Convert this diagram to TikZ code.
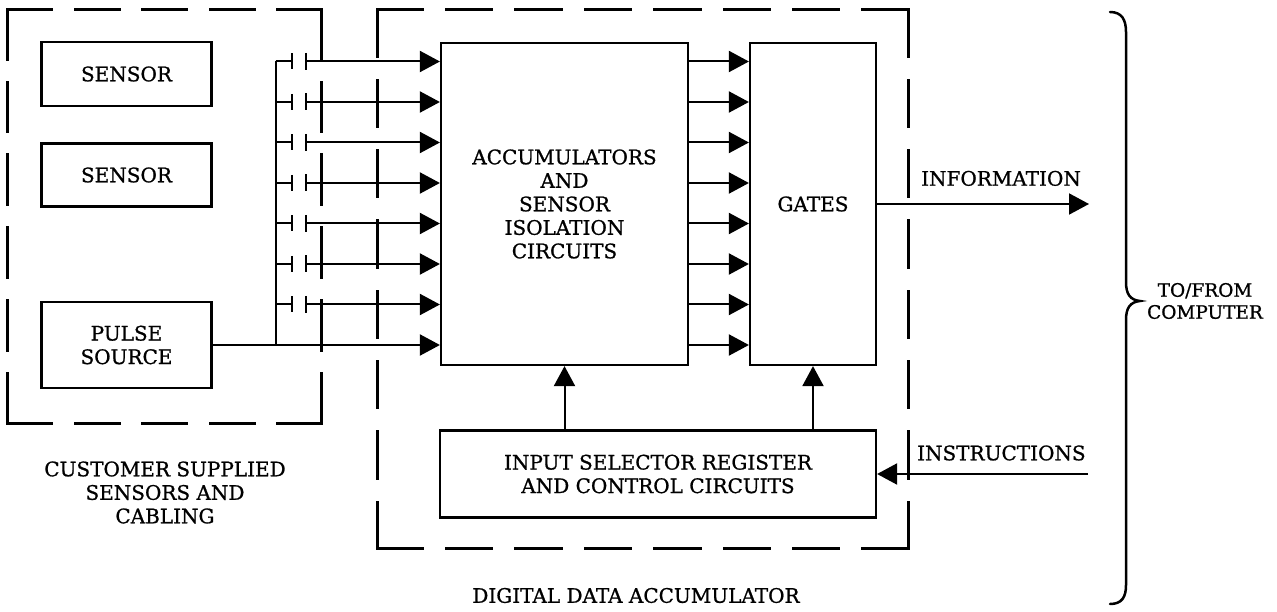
\documentclass[tikz,border=0pt]{standalone}
\usepackage{fontspec}
\setmainfont{DejaVu Serif}[BoldFont=DejaVu Serif, BoldFeatures={FakeBold=0.9}]
\usetikzlibrary{arrows.meta}
\begin{document}
\begin{tikzpicture}[x=1pt,y=-1pt,
  lbl/.style={font=\fontsize{20}{23.5}\selectfont\bfseries, align=center, inner sep=0pt},
  blk/.style={draw, line width=2.2pt, inner sep=0pt, lbl},
  sig/.style={line width=2pt},
  arr/.style={sig, -{Triangle[length=20pt,width=21pt]}},
  dsh/.style={line width=3pt, line cap=rect},
  brc/.style={line width=2.5pt, line cap=round}
]
\useasboundingbox (0,0) rectangle (1277,612);

% blocks
\node[blk, minimum width=170pt, minimum height=64pt] (sensA) at (126.5,74) {SENSOR};
\node[blk, minimum width=170pt, minimum height=63pt] (sensB) at (126.5,175) {SENSOR};
\node[blk, minimum width=170pt, minimum height=86pt] (pulse) at (126.5,345) {PULSE\\SOURCE};
\node[blk, minimum width=247pt, minimum height=322pt] (accum) at (564.5,204) {ACCUMULATORS\\AND\\SENSOR\\ISOLATION\\CIRCUITS};
\node[blk, minimum width=126pt, minimum height=322pt] (gates) at (813,204) {GATES};
\node[blk, minimum width=436pt, minimum height=87pt] (insel) at (658,474) {INPUT SELECTOR REGISTER\\AND CONTROL CIRCUITS};

% dashed enclosures
\coordinate (lTL) at (7.5,9.5);   \coordinate (lTR) at (321.7,9.5);
\coordinate (lBR) at (321.7,423); \coordinate (lBL) at (7.5,423);
\draw[dsh, dash pattern=on 44pt off 23.55pt] (lTL) -- (lTR);
\draw[dsh, dash pattern=on 44pt off 23.55pt] (lBL) -- (lBR);
\draw[dsh, dash pattern=on 49.75pt off 23pt] (lTL) -- (lBL);
\draw[dsh, dash pattern=on 49.75pt off 23pt] (lTR) -- (lBR);

\coordinate (rTL) at (377,10);    \coordinate (rTR) at (908,10);
\coordinate (rBR) at (908,548.5); \coordinate (rBL) at (377,548.5);
\draw[dsh, dash pattern=on 45.4pt off 24pt] (rTL) -- (rTR);
\draw[dsh, dash pattern=on 45.4pt off 24pt] (rBL) -- (rBR);
\draw[dsh, dash pattern=on 46.3pt off 24pt] (rTL) -- (rBL);
\draw[dsh, dash pattern=on 46.3pt off 24pt] (rTR) -- (rBR);

% sensor lines with coupling capacitors
\foreach \i in {0,...,6}{
  \pgfmathsetmacro\yy{61.5+40.5*\i}
  \coordinate (b\i) at (275.7,\yy);
  \coordinate (p\i) at (291.7,\yy);
  \coordinate (q\i) at (306,\yy);
  \draw[sig] (b\i) -- (p\i);
  \draw[sig] ([yshift=8pt]p\i) -- ([yshift=-8pt]p\i);
  \draw[sig] ([yshift=8.5pt]q\i) -- ([yshift=-8.5pt]q\i);
  \draw[arr] (q\i) -- (accum.west |- q\i);
}
% pulse line and bus
\coordinate (b7) at (275.7,345);
\draw[arr] (pulse.east) -- (accum.west |- pulse.east);
\draw[sig] (b0) -- (b7);

% accumulators to gates
\foreach \i in {0,...,7}{
  \pgfmathsetmacro\yy{61.5+40.5*\i}
  \coordinate (g\i) at (700,\yy);
  \draw[arr] (accum.east |- g\i) -- (gates.west |- g\i);
}

% control arrows
\draw[arr] (accum.south |- insel.north) -- (accum.south);
\draw[arr] (gates.south |- insel.north) -- (gates.south);

% information / instructions
\coordinate (infoEnd) at (1089,204);
\draw[arr] (gates.east) -- (infoEnd);
\coordinate (instrStart) at (1088,474);
\draw[arr] (instrStart) -- (insel.east);

\node[lbl] (info) at (1001,178.4) {INFORMATION};
\node[lbl] (instr) at (1001.4,453) {INSTRUCTIONS};

% brace
\draw[brc] (1110,12) .. controls (1122,12) and (1126,20) .. (1126,32) -- (1126,282)
  .. controls (1126,294) and (1130,300) .. (1140,301)
  .. controls (1130,302) and (1126,308) .. (1126,320) -- (1126,585)
  .. controls (1126,597) and (1122,604) .. (1110,604);
\node[lbl, font=\fontsize{18.5}{22}\selectfont\bfseries] (comp) at (1205,301) {TO/FROM\\COMPUTER};

% captions
\node[lbl] (cust) at (165,492.5) {CUSTOMER SUPPLIED\\SENSORS AND\\CABLING};
\node[lbl] (dda) at (636,595.5) {DIGITAL DATA ACCUMULATOR};
\end{tikzpicture}
\end{document}
